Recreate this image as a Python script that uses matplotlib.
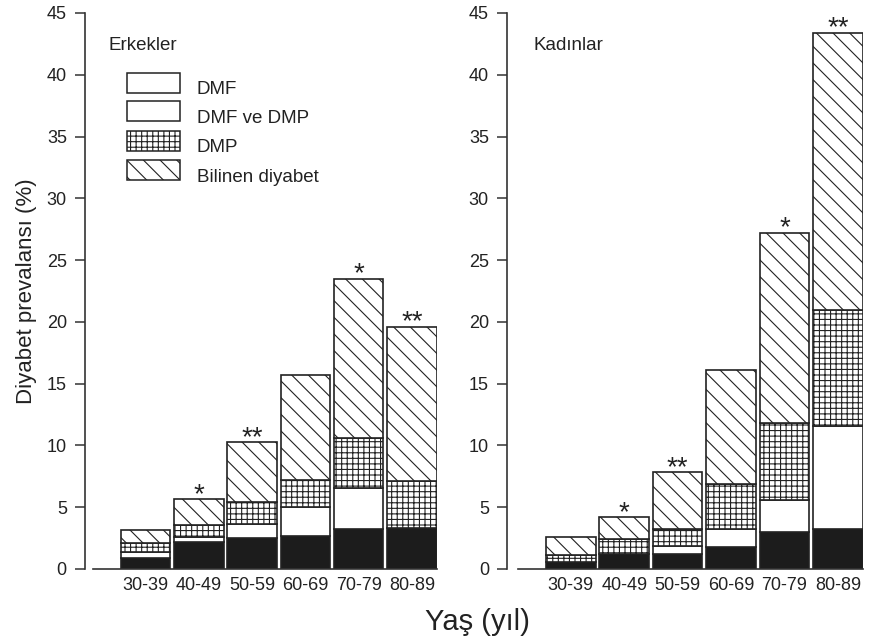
"""
Diyabet prevalansı: yaş gruplarına göre erkek / kadın, yığılmış çubuklar
"""
import numpy as np
import matplotlib.pyplot as plt
from matplotlib.patches import Rectangle

plt.rcParams['font.family'] = ['Liberation Sans', 'DejaVu Sans']
plt.rcParams['hatch.linewidth'] = 0.8

# ============================================================
# Veriler (%)
# ============================================================
age_groups = ['30-39', '40-49', '50-59', '60-69', '70-79', '80-89']

# Erkekler: alt katmandan üste
men_dmf = [0.9, 2.2, 2.5, 2.7, 3.2, 3.35]
men_dmf_dmp = [0.45, 0.4, 1.15, 2.35, 3.35, 0.0]
men_dmp = [0.75, 0.95, 1.8, 2.15, 4.05, 3.8]
men_known = [1.05, 2.1, 4.8, 8.5, 12.9, 12.45]
men_stars = ['', '*', '**', '', '*', '**']

# Kadınlar
women_dmf = [0.6, 1.25, 1.2, 1.75, 3.0, 3.25]
women_dmf_dmp = [0.0, 0.0, 0.65, 1.45, 2.6, 8.35]
women_dmp = [0.5, 1.15, 1.4, 3.7, 6.2, 9.4]
women_known = [1.45, 1.8, 4.6, 9.2, 15.4, 22.4]
women_stars = ['', '*', '**', '', '*', '**']

legend_labels = ['DMF', 'DMF ve DMP', 'DMP', 'Bilinen diyabet']

# katman stilleri: (dolgu, tarama)
layer_styles = [('#1c1c1c', None), ('white', None), ('white', '+++'), ('white', '\\\\')]
legend_styles = [('white', None), ('white', None), ('white', '+++'), ('white', '\\\\')]

EDGE = '#222222'
AXC = '#333333'


def setup(ax, spine_offset):
    ax.set_ylim(0, 45)
    ax.set_xlim(-0.99, 5.47)
    ax.set_yticks(range(0, 46, 5))
    ax.set_xticks(range(len(age_groups)))
    ax.set_xticklabels(age_groups)
    for side in ('top', 'right'):
        ax.spines[side].set_visible(False)
    ax.spines['left'].set_position(('outward', spine_offset))
    for side in ('left', 'bottom'):
        ax.spines[side].set_color(AXC)
        ax.spines[side].set_linewidth(1.2)
    ax.tick_params(axis='y', direction='out', length=7, width=1.1, color=AXC,
                   labelsize=13, pad=6, labelcolor='#222222')
    ax.tick_params(axis='x', length=0, labelsize=13, pad=6, labelcolor='#222222')


def draw_panel(ax, layers, stars, title):
    x = np.arange(len(age_groups))
    bottom = np.zeros(len(x))
    for vals, (fc, hatch) in zip(layers, layer_styles):
        ax.bar(x, vals, 0.93, bottom=bottom, color=fc, hatch=hatch,
               edgecolor=EDGE, linewidth=1.2)
        bottom += np.array(vals)
    for xi, top, s in zip(x, bottom, stars):
        if s:
            ax.annotate(s, (xi, top), xytext=(0, -2), textcoords='offset points',
                        ha='center', va='baseline', fontsize=20, color='#222222')
    ax.text(0.045, 0.942, title, transform=ax.transAxes, fontsize=13.5,
            va='center', ha='left', color='#222222')


def draw_legend(ax):
    box_y = [0.856, 0.805, 0.752, 0.699]
    for y, (fc, hatch), label in zip(box_y, legend_styles, legend_labels):
        ax.add_patch(Rectangle((0.098, y), 0.155, 0.036, transform=ax.transAxes,
                               facecolor=fc, hatch=hatch, edgecolor=EDGE,
                               linewidth=1.1, clip_on=False))
        ax.text(0.301, y + 0.006, label, transform=ax.transAxes, fontsize=13.5,
                va='center', ha='left', color='#222222')


fig = plt.figure(figsize=(8.83, 6.43), dpi=100)
ax1 = fig.add_axes([0.1053, 0.1151, 0.3896, 0.8647])
ax2 = fig.add_axes([0.5866, 0.1151, 0.3907, 0.8647])

setup(ax1, 5.8)
setup(ax2, 7.9)

draw_panel(ax1, [men_dmf, men_dmf_dmp, men_dmp, men_known], men_stars, 'Erkekler')
draw_panel(ax2, [women_dmf, women_dmf_dmp, women_dmp, women_known], women_stars, 'Kadınlar')
draw_legend(ax1)

ax1.set_ylabel('Diyabet prevalansı (%)', fontsize=16, labelpad=7, color='#222222')
fig.text(0.541, 0.033, 'Yaş (yıl)', fontsize=21, ha='center', va='center', color='#222222')

fig.savefig('out.png', dpi=100)
